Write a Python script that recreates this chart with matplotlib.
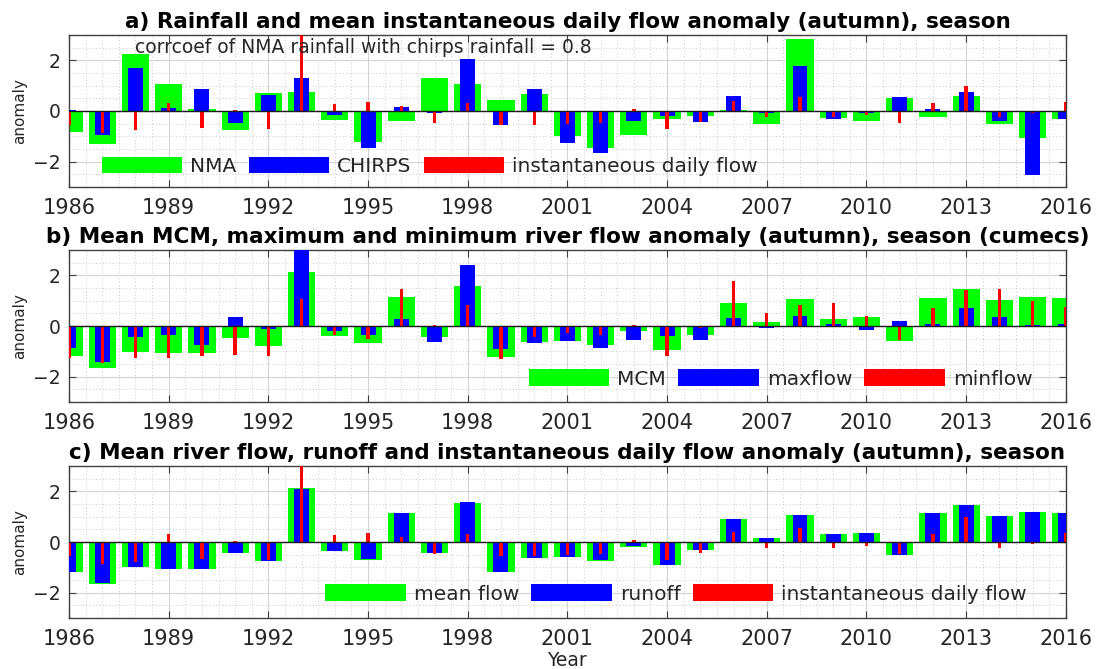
import matplotlib
matplotlib.use("Agg")
import matplotlib.pyplot as plt
from matplotlib.ticker import MultipleLocator

years = list(range(1986, 2017))

# panel a
nma = [-0.81, -1.31, 2.24, 1.08, 0.09, -0.77, 0.71, 0.75, -0.35, -1.23, -0.38, 1.31, 1.05, 0.42, 0.67,
       -1.00, -1.45, -0.95, -0.33, -0.18, 0.04, -0.50, 2.86, -0.27, -0.38, 0.50, -0.25, 0.59, -0.50, -1.06, -0.33]
chirps = [0.03, -0.95, 1.71, 0.12, 0.85, -0.46, 0.63, 1.31, -0.16, -1.46, 0.17, -0.09, 2.07, -0.54, 0.88,
          -1.27, -1.66, -0.38, -0.20, -0.44, 0.61, -0.07, 1.76, -0.30, -0.07, 0.55, 0.07, 0.75, -0.38, -2.52, -0.30]
inst_flow = [-0.55, -0.88, -0.77, 0.33, -0.68, 0.04, -0.72, 3.50, 0.27, 0.37, 0.20, -0.48, 0.33, -0.55, -0.54,
             -0.52, -0.48, 0.09, -0.72, -0.42, 0.39, -0.22, 0.56, -0.25, -0.17, -0.46, 0.30, 0.98, -0.22, -0.07, 0.37]

# panel b
mcm = [-1.20, -1.67, -1.02, -1.07, -1.07, -0.46, -0.78, 2.12, -0.39, -0.69, 1.15, -0.44, 1.57, -1.22, -0.63,
       -0.60, -0.75, -0.20, -0.94, -0.35, 0.89, 0.16, 1.07, 0.29, 0.37, -0.58, 1.12, 1.46, 1.03, 1.16, 1.12]
maxflow = [-0.88, -1.42, -0.42, -0.37, -0.76, 0.37, -0.13, 3.20, -0.20, -0.35, 0.26, -0.63, 2.39, -0.92, -0.67,
           -0.60, -0.85, -0.55, -0.38, -0.55, 0.33, -0.09, 0.41, 0.08, -0.16, 0.18, 0.09, 0.73, 0.37, 0.03, 0.09]
minflow = [-1.25, -1.46, -1.27, -1.27, -1.20, -1.14, -1.20, 1.08, -0.35, -0.50, 1.46, 0.04, 0.82, -1.29, -0.42,
           -0.29, -0.37, 0.04, -1.20, -0.09, 1.78, 0.50, 0.82, 0.92, 0.38, -0.55, 0.73, 1.41, 1.46, 0.98, 0.75]

# panel c
mean_flow = [-1.19, -1.65, -1.00, -1.06, -1.05, -0.44, -0.75, 2.12, -0.36, -0.69, 1.16, -0.44, 1.56, -1.18, -0.62,
             -0.58, -0.73, -0.18, -0.90, -0.33, 0.90, 0.17, 1.08, 0.30, 0.37, -0.53, 1.13, 1.47, 1.03, 1.17, 1.13]
runoff = [-1.20, -1.63, -0.99, -1.07, -1.05, -0.44, -0.74, 2.11, -0.36, -0.68, 1.15, -0.44, 1.58, -1.18, -0.62,
          -0.58, -0.70, -0.16, -0.90, -0.30, 0.90, 0.17, 1.08, 0.30, 0.37, -0.53, 1.13, 1.47, 1.03, 1.18, 1.13]

xticks = list(range(1986, 2017, 3))
yticks = [-2, 0, 2]

TXT = '#262626'
GREEN, BLUE, RED = '#00ff00', '#0000ff', '#ff0000'

fig = plt.figure(figsize=(10.99, 6.69), dpi=100)
L, W, H = 0.0628, 0.907, 0.2272
pos = [[L, 0.7205, W, H], [L, 0.3991, W, H], [L, 0.0762, W, H]]


def panel(ax, s1, s2, s3, labels, title, anchor):
    ax.bar(years, s1, width=0.82, color=GREEN, label=labels[0], zorder=2)
    ax.bar(years, s2, width=0.45, color=BLUE, label=labels[1], zorder=3)
    ax.bar(years, s3, width=0.10, color=RED, label=labels[2], zorder=4)
    ax.axhline(0, color='#1a1a1a', lw=1.0, zorder=5)
    ax.set_xlim(1986, 2016)
    ax.set_ylim(-3, 3)
    ax.set_xticks(xticks)
    ax.set_yticks(yticks)
    ax.xaxis.set_minor_locator(MultipleLocator(0.5))
    ax.yaxis.set_minor_locator(MultipleLocator(0.5))
    ax.set_axisbelow(True)
    ax.grid(which='major', color='#d4d4d4', lw=0.8, zorder=0)
    ax.grid(which='minor', color='#b8b8b8', lw=0.6, linestyle=(0, (1, 3)), zorder=0)
    ax.tick_params(which='major', direction='in', top=True, right=True, length=5,
                   color='#404040', labelcolor=TXT)
    ax.tick_params(axis='x', which='major', labelsize=15, pad=8)
    ax.tick_params(axis='y', which='major', labelsize=13.5, pad=6)
    ax.tick_params(which='minor', length=0)
    for sp in ax.spines.values():
        sp.set_color('#404040')
        sp.set_linewidth(1.0)
    ax.set_ylabel('anomaly', fontsize=11, color=TXT, labelpad=4)
    ax.set_title(title, fontsize=15.5, fontweight='bold', color='#000000', pad=5)
    ax.legend(loc='center', bbox_to_anchor=anchor, ncol=3, frameon=False, fontsize=14.5,
              handlelength=4.0, handleheight=0.9, handletextpad=0.4, columnspacing=0.6,
              borderpad=0, labelcolor=TXT)


axa = fig.add_axes(pos[0])
panel(axa, nma, chirps, inst_flow, ['NMA', 'CHIRPS', 'instantaneous daily flow'],
      'a) Rainfall and mean instantaneous daily flow anomaly (autumn), season', (0.362, 0.137))
axa.text(1988, 2.5, 'corrcoef of NMA rainfall with chirps rainfall = 0.8', fontsize=13.5,
         color=TXT, va='center', ha='left', zorder=6)

axb = fig.add_axes(pos[1])
panel(axb, mcm, maxflow, minflow, ['MCM', 'maxflow', 'minflow'],
      'b) Mean MCM, maximum and minimum river flow anomaly (autumn), season (cumecs)', (0.714, 0.151))

axc = fig.add_axes(pos[2])
panel(axc, mean_flow, runoff, inst_flow, ['mean flow', 'runoff', 'instantaneous daily flow'],
      'c) Mean river flow, runoff and instantaneous daily flow anomaly (autumn), season', (0.609, 0.158))
axc.set_xlabel('Year', fontsize=13.5, color=TXT, labelpad=1)

fig.savefig('out.png', dpi=100)
